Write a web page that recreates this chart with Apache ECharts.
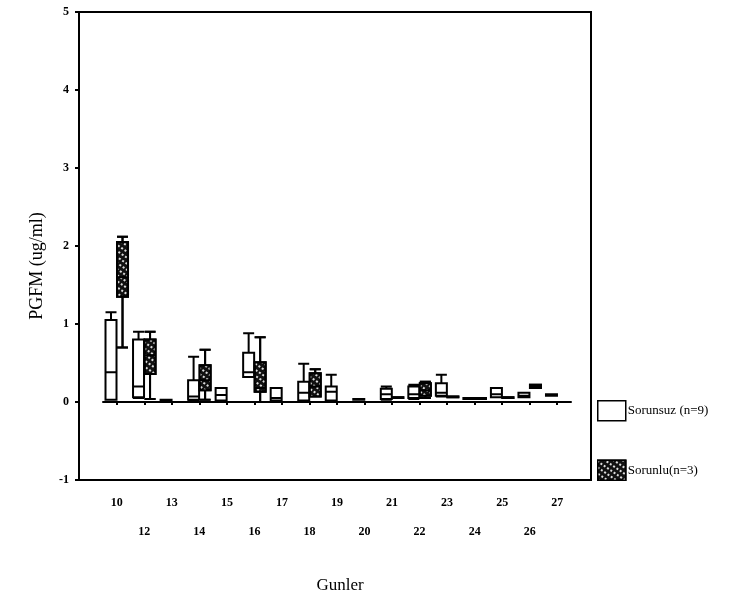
<!DOCTYPE html>
<html>
<head>
<meta charset="utf-8">
<script src="https://cdn.jsdelivr.net/npm/echarts@6/dist/echarts.min.js"></script>
<style>html,body{margin:0;padding:0;background:#fff}#c{width:747px;height:600px}</style>
</head>
<body>
<div id="c"></div>
<script>
// Days (Gunler)
var categories = ['10','12','13','14','15','16','17','18','19','20','21','22','23','24','25','26','27'];
// [min, Q1, median, Q3, max] in ug/ml
var sorunsuz = [
  [0.03, 0.03, 0.38, 1.05, 1.15],
  [0.05, 0.06, 0.20, 0.80, 0.90],
  [0.01, 0.01, 0.02, 0.03, 0.03],
  [0.02, 0.03, 0.07, 0.28, 0.58],
  [0.02, 0.02, 0.09, 0.18, 0.18],
  [0.32, 0.32, 0.38, 0.63, 0.88],
  [0.02, 0.02, 0.05, 0.18, 0.18],
  [0.02, 0.02, 0.12, 0.26, 0.49],
  [0.02, 0.02, 0.13, 0.20, 0.35],
  [0.03, 0.03, 0.03, 0.04, 0.04],
  [0.03, 0.04, 0.10, 0.17, 0.20],
  [0.04, 0.05, 0.10, 0.20, 0.22],
  [0.07, 0.08, 0.12, 0.24, 0.35],
  [0.04, 0.04, 0.05, 0.05, 0.05],
  [0.06, 0.06, 0.10, 0.18, 0.18],
  [0.06, 0.06, 0.08, 0.12, 0.12],
  [0.08, 0.08, 0.09, 0.10, 0.10]
];
var M = ['-','-','-','-','-'];
var sorunlu = [
  [0.70, 1.35, 1.60, 2.05, 2.12],
  [0.04, 0.36, 0.60, 0.80, 0.90],
  M,
  [0.03, 0.15, 0.28, 0.47, 0.67],
  M,
  [0.00, 0.13, 0.18, 0.51, 0.83],
  M,
  [0.07, 0.07, 0.20, 0.37, 0.42],
  M,
  M,
  [0.05, 0.05, 0.05, 0.06, 0.06],
  [0.05, 0.08, 0.15, 0.24, 0.26],
  [0.06, 0.06, 0.06, 0.07, 0.07],
  [0.04, 0.04, 0.05, 0.05, 0.05],
  [0.05, 0.05, 0.05, 0.06, 0.06],
  [0.18, 0.18, 0.20, 0.22, 0.22],
  M
];
var yMin = -1, yMax = 5, yStep = 1;
var seriesNames = ['Sorunsuz (n=9)', 'Sorunlu(n=3)'];
var yTitle = 'PGFM (ug/ml)';
var xTitle = 'Gunler';

var serif = 'Liberation Serif';
var hatch = {symbol: 'rect', symbolSize: 1, color: 'rgba(255,255,255,0.85)', dashArrayX: [2, 2], dashArrayY: [2, 3], rotation: 0.6};
var whiteStyle = {color: '#fff', borderColor: '#000', borderWidth: 2};
var darkStyle = {color: '#111', borderColor: '#000', borderWidth: 2, decal: hatch};

var chart = echarts.init(document.getElementById('c'));
chart.setOption({
  animation: false,
  backgroundColor: '#fff',
  grid: [
    {left: 79, width: 512, top: 12, height: 468, show: true, borderColor: '#000', borderWidth: 2, backgroundColor: 'transparent'},
    {left: 103, width: 468, top: 12, height: 468}
  ],
  xAxis: [
    {gridIndex: 0, type: 'value', show: false, min: 0, max: 1},
    {gridIndex: 1, type: 'category', data: categories,
     axisLine: {show: true, lineStyle: {color: '#000', width: 2}},
     axisTick: {show: true, alignWithLabel: true, length: 3, inside: false, lineStyle: {color: '#000', width: 2}},
     axisLabel: {interval: 0, margin: 8, color: '#000', fontFamily: serif, fontWeight: 'bold', fontSize: 12, lineHeight: 29,
       formatter: function (v, i) { return i % 2 ? '\n' + v : v; }},
     splitLine: {show: false}}
  ],
  yAxis: [
    {gridIndex: 0, type: 'value', min: yMin, max: yMax, interval: yStep,
     axisLine: {show: true, lineStyle: {color: '#000', width: 2}},
     axisTick: {show: true, length: 4, lineStyle: {color: '#000', width: 2}},
     axisLabel: {color: '#000', fontFamily: serif, fontWeight: 'bold', fontSize: 12, margin: 10},
     splitLine: {show: false}},
    {gridIndex: 1, type: 'value', min: yMin, max: yMax, interval: yStep, show: false, splitLine: {show: false}}
  ],
  legend: {
    orient: 'vertical', left: 597, top: 400, padding: 0, itemWidth: 28, itemHeight: 20, itemGap: 38,
    icon: 'rect',
    textStyle: {fontFamily: serif, fontSize: 13, color: '#000', padding: [0, 0, 0, -3]},
    data: [
      {name: seriesNames[0], itemStyle: {color: '#fff', borderColor: '#000', borderWidth: 1.5}},
      {name: seriesNames[1], itemStyle: {color: '#111', borderColor: '#000', borderWidth: 1.5, decal: hatch}}
    ]
  },
  graphic: [
    {type: 'text', x: 37, y: 266, rotation: Math.PI / 2,
     style: {text: yTitle, font: '18px "Liberation Serif"', fill: '#000', align: 'center', verticalAlign: 'middle'}},
    {type: 'text', x: 340, y: 586,
     style: {text: xTitle, font: '17px "Liberation Serif"', fill: '#000', align: 'center', verticalAlign: 'middle'}}
  ],
  series: [
    {name: seriesNames[0], type: 'boxplot', xAxisIndex: 1, yAxisIndex: 1, data: sorunsuz,
     boxWidth: [11, 11], itemStyle: whiteStyle},
    {name: seriesNames[1], type: 'boxplot', xAxisIndex: 1, yAxisIndex: 1, data: sorunlu,
     boxWidth: [11, 11], itemStyle: darkStyle}
  ]
});
</script>
</body>
</html>
